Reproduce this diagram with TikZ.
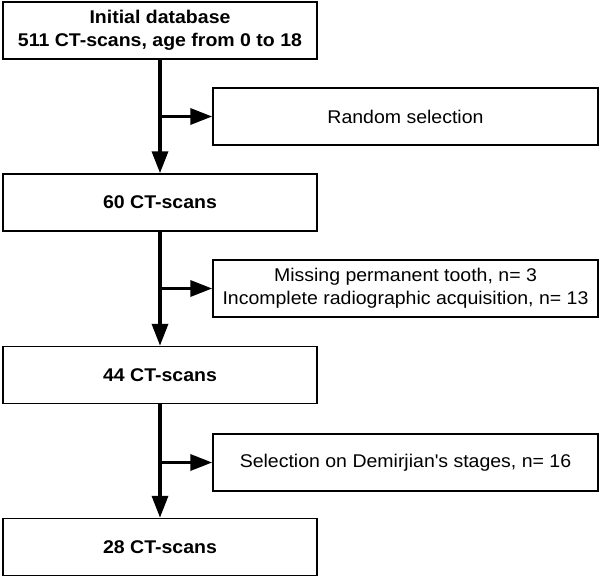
\documentclass[tikz,border=0pt]{standalone}
\usepackage{fontspec}
\setmainfont[FakeStretch=1.06]{Liberation Sans}
\usetikzlibrary{arrows.meta}
\begin{document}
\begin{tikzpicture}[x=1pt,y=-1pt,
  box/.style={draw, line width=1.5pt, inner sep=0pt, align=center,
    font=\fontsize{18.4}{22.8}\selectfont},
  mainbox/.style={box, minimum width=314pt, minimum height=57pt,
    font=\bfseries\fontsize{18.4}{22.8}\selectfont},
  sidebox/.style={box, minimum width=385pt, minimum height=57pt},
  arr/.style={line width=3.5pt, -{Triangle[length=22pt,width=16pt]}}
]
\useasboundingbox (0,0) rectangle (600,578);
\node[mainbox] (a) at (160,30.5) {Initial database\\511 CT-scans, age from 0 to 18};
\node[sidebox] (r) at (405.5,116.5) {Random selection};
\node[mainbox] (b) at (160,202.5) {60 CT-scans};
\node[sidebox] (m) at (405.5,288.5) {Missing permanent tooth, n= 3\\Incomplete radiographic acquisition, n= 13};
\node[mainbox] (c) at (160,375) {44 CT-scans};
\node[sidebox] (s) at (405.5,462.5) {Selection on Demirjian\textquotesingle s stages, n= 16};
\node[mainbox] (d) at (160,547) {28 CT-scans};
\draw[arr] (a) -- (b);
\draw[arr] (b) -- (c);
\draw[arr] (c) -- (d);
\draw[arr] (a.south |- r.west) -- (r.west);
\draw[arr] (b.south |- m.west) -- (m.west);
\draw[arr] (c.south |- s.west) -- (s.west);
\end{tikzpicture}
\end{document}
